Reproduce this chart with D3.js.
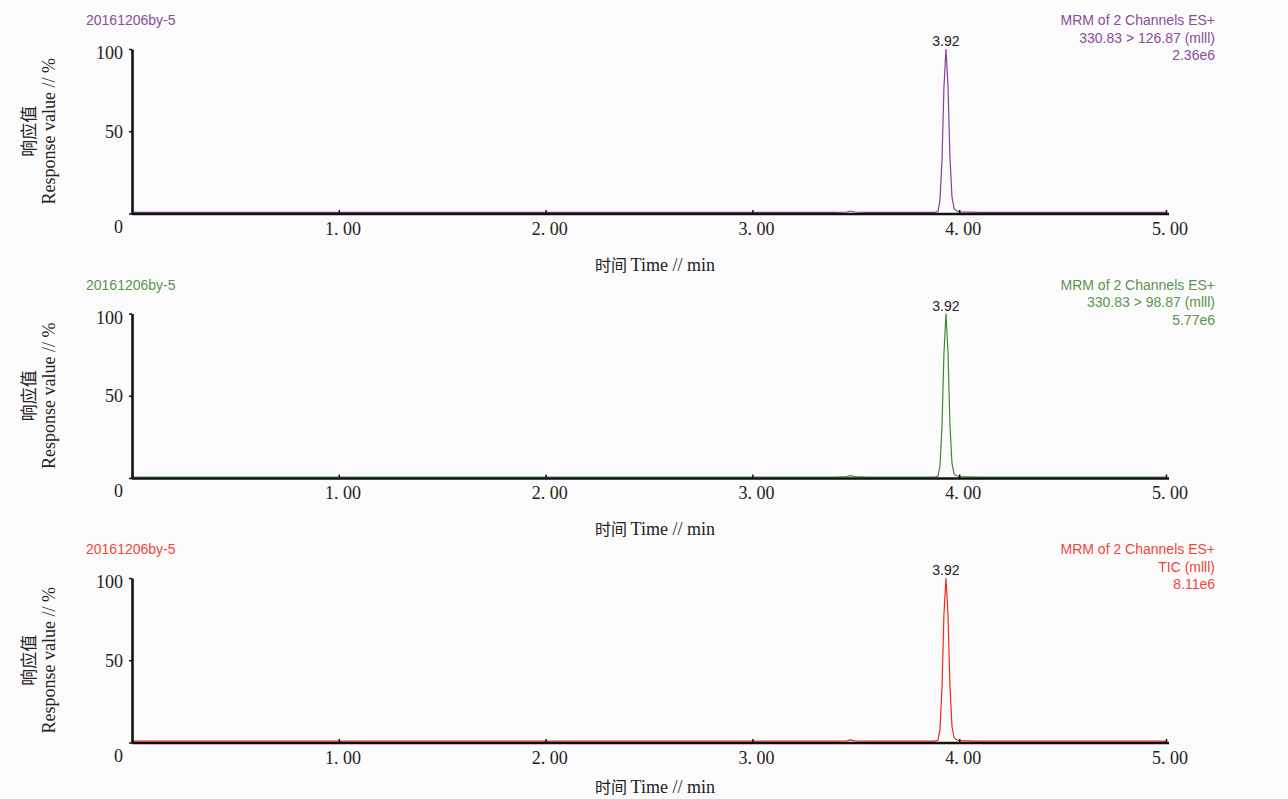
<!DOCTYPE html>
<html lang="zh">
<head>
    <meta charset="UTF-8">
    <title>MRM chromatograms</title>
    <script src="https://cdn.jsdelivr.net/npm/d3@7"></script>
    <style>
        body { margin: 0; background: #fbfbfb; }
        svg { display: block; background: #fbfbfb; }
        .tick-lbl { font-family: "Liberation Serif", "DejaVu Serif", serif; font-size: 18px; fill: #222; }
        .axis-title { font-family: "Liberation Serif", serif; font-size: 18px; fill: #222; }
        .cjk { font-family: "Noto Sans CJK SC", sans-serif; }
        .info { font-family: "Liberation Sans", Arial, sans-serif; font-size: 14px; }
    </style>
</head>
<body>
<div id="chart"></div>
<script>
    // retention time, min
    const times = [0, 1.00, 2.00, 3.00, 3.40, 3.455, 3.475, 3.495, 3.55, 3.88,
        3.897, 3.907, 3.917, 3.926, 3.936, 3.946, 3.955, 3.965, 3.975, 3.985, 4.00, 4.10, 5.00];

    // relative response, %
    const purpleValues = [0.7, 0.7, 0.7, 0.7, 0.7, 0.9, 1.5, 0.9, 0.7, 0.7,
        1.2, 8, 33, 76, 100, 77, 35, 10, 3, 1.8, 1.0, 0.7, 0.7];
    const greenValues = [0.6, 0.6, 0.6, 0.6, 0.6, 0.8, 1.4, 0.8, 0.6, 0.6,
        1.0, 7, 32, 75, 100, 76, 33, 9, 2.5, 1.5, 0.9, 0.6, 0.6];
    const redValues = [0.8, 0.8, 0.8, 0.8, 0.8, 1.0, 1.6, 1.0, 0.8, 0.8,
        1.3, 8, 34, 77, 100, 77, 35, 10, 3, 1.8, 1.1, 0.8, 0.8];

    const xTicks = [1, 2, 3, 4, 5];
    const yTicks = [0, 50, 100];

    const sampleNames = ["20161206by-5", "20161206by-5", "20161206by-5"];
    const channelLines = [
        ["MRM of 2 Channels ES+", "330.83 > 126.87 (mlll)", "2.36e6"],
        ["MRM of 2 Channels ES+", "330.83 > 98.87 (mlll)", "5.77e6"],
        ["MRM of 2 Channels ES+", "TIC (mlll)", "8.11e6"]
    ];
    const peakLabels = ["3.92", "3.92", "3.92"];
    const seriesValues = [purpleValues, greenValues, redValues];
    const textColors = ["#8c4c9c", "#5c9450", "#f0463a"];
    const lineColors = ["#8a3d9e", "#3f8a35", "#ee2a1c"];

    const W = 1288, H = 799;
    const svg = d3.select("#chart").append("svg").attr("width", W).attr("height", H);

    const x = d3.scaleLinear().domain([0, 5]).range([132, 1166]);

    seriesValues.forEach((vals, i) => {
        const top = 49 + i * 264.5;
        const bottom = top + 164.5;
        const y = d3.scaleLinear().domain([0, 100]).range([bottom, top]);
        const g = svg.append("g");

        // trace
        const line = d3.line()
            .x((d, k) => x(times[k]))
            .y(d => y(d));
        g.append("path")
            .datum(vals)
            .attr("fill", "none")
            .attr("stroke", lineColors[i])
            .attr("stroke-width", 1.2)
            .attr("d", line);

        // x axis
        const xAxis = g.append("g")
            .attr("transform", `translate(0,${bottom + 0.5})`)
            .call(d3.axisBottom(x).tickValues(xTicks)
                .tickSizeInner(-4).tickSizeOuter(0).tickPadding(8)
                .tickFormat(d => d3.format(".2f")(d).replace(".", ". ")));
        xAxis.select(".domain").attr("stroke", "#111").attr("stroke-width", 2.6)
            .attr("d", `M${x(0)},0H${x(5) + 3}`);
        xAxis.selectAll(".tick line").attr("stroke", "#111").attr("stroke-width", 1.5);
        xAxis.selectAll(".tick text").attr("class", "tick-lbl").attr("font-size", null)
            .attr("font-family", null).attr("dx", "0.2em");

        // y axis
        const yAxis = g.append("g")
            .attr("transform", `translate(${x(0)},0)`)
            .call(d3.axisLeft(y).tickValues(yTicks).tickSizeInner(3).tickSizeOuter(0).tickPadding(6));
        yAxis.select(".domain").attr("stroke", "#111").attr("stroke-width", 2.6);
        yAxis.selectAll(".tick line").attr("stroke", "#111").attr("stroke-width", 1.5);
        yAxis.selectAll(".tick text").attr("class", "tick-lbl").attr("font-size", null)
            .attr("font-family", null)
            .attr("dy", d => d === 0 ? "1.05em" : d === 100 ? "0.55em" : "0.32em");

        // axis titles
        g.append("text").attr("class", "axis-title")
            .attr("transform", `translate(55,${(top + bottom) / 2}) rotate(-90)`)
            .attr("text-anchor", "middle")
            .text("Response value // %");
        g.append("text").attr("class", "axis-title cjk")
            .attr("transform", `translate(35,${(top + bottom) / 2}) rotate(-90)`)
            .attr("text-anchor", "middle")
            .style("font-size", "17px")
            .text("响应值");
        const xt = g.append("text").attr("class", "axis-title")
            .attr("x", 655).attr("y", Math.min(bottom + 57, H - 6))
            .attr("text-anchor", "middle");
        xt.append("tspan").attr("class", "cjk").style("font-size", "16px").text("时间 ");
        xt.append("tspan").text("Time // min");

        // sample name and channel info
        g.append("text").attr("class", "info")
            .attr("x", 86).attr("y", top - 24)
            .attr("fill", textColors[i])
            .text(sampleNames[i]);
        channelLines[i].forEach((t, k) => {
            g.append("text").attr("class", "info")
                .attr("x", 1215).attr("y", top - 24 + k * 17.5)
                .attr("text-anchor", "end")
                .attr("fill", textColors[i])
                .text(t);
        });

        // peak label
        const apex = d3.maxIndex(vals);
        g.append("text").attr("class", "info")
            .attr("x", x(times[apex])).attr("y", y(vals[apex]) - 3)
            .attr("text-anchor", "middle")
            .attr("fill", "#222")
            .text(peakLabels[i]);
    });
</script>
</body>
</html>
